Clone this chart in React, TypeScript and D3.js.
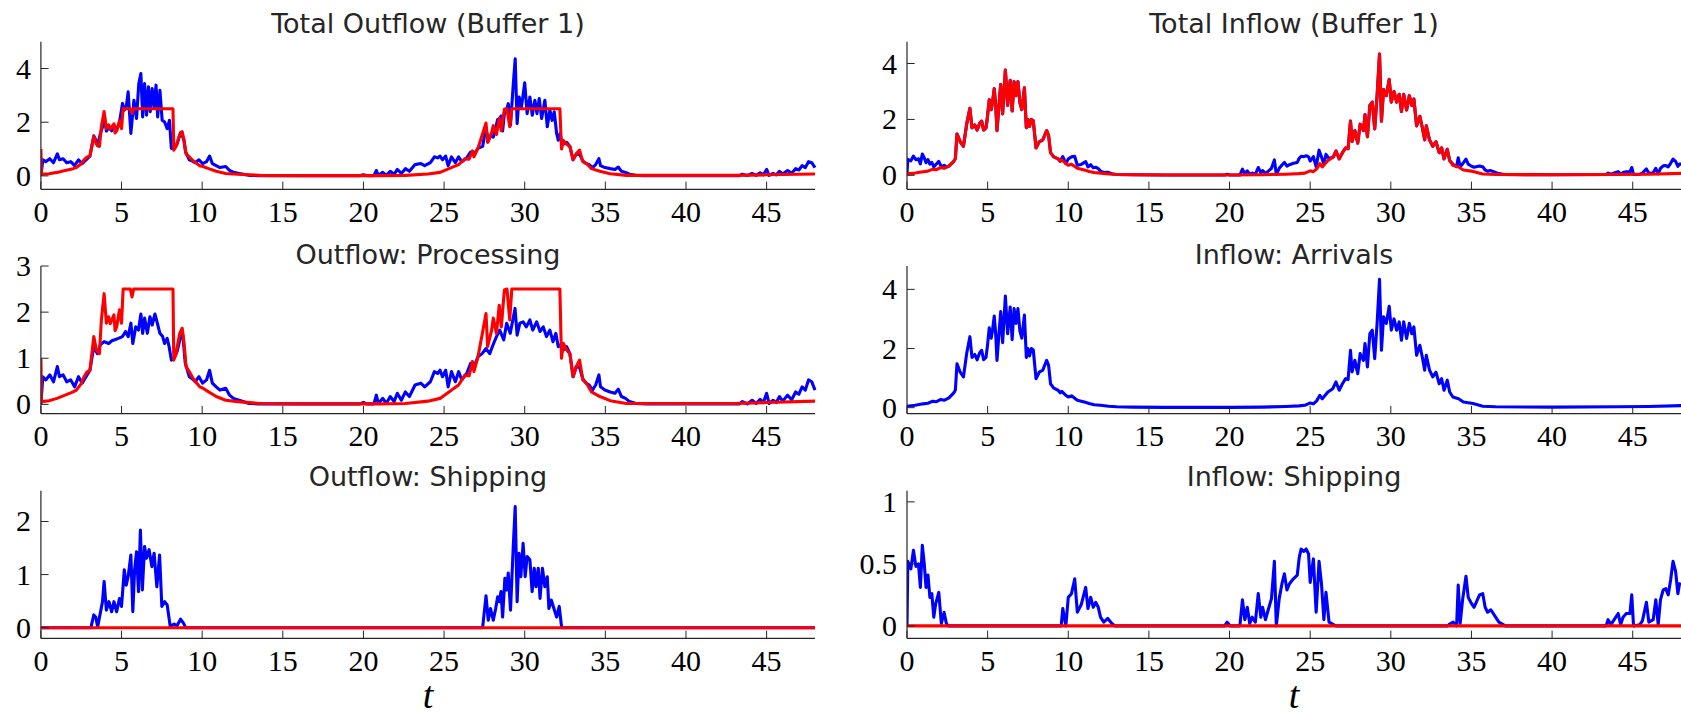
import React from 'react';
import * as d3 from 'd3';

type Pt = [number, number];

// ---------------- data ----------------
const xTicks = [0, 5, 10, 15, 20, 25, 30, 35, 40, 45];
const tDomain: [number, number] = [0, 48];

const arrivals: Pt[] = [
  [0,0.05],[0.5,0.08],[1,0.13],[1.3,0.15],[1.6,0.22],[1.8,0.2],[2.1,0.28],[2.3,0.25],[2.6,0.33],[2.9,0.5],[3.0,0.6],[3.1,1.48],[3.3,1.2],[3.5,1.04],[3.7,1.83],[3.9,2.4],[4.03,1.7],[4.2,1.8],[4.35,1.62],[4.5,1.85],[4.63,1.94],[4.75,1.62],[4.9,1.7],[4.98,2.05],[5.1,2.7],[5.22,2.35],[5.3,2.6],[5.41,3.1],[5.5,2.5],[5.58,1.6],[5.69,2.4],[5.81,3.25],[5.93,2.2],[6.1,3.77],[6.24,2.5],[6.4,3.4],[6.52,2.3],[6.64,3.35],[6.76,2.85],[6.88,3.35],[7.0,2.6],[7.12,2.35],[7.28,3.13],[7.4,1.7],[7.5,2.0],[7.6,1.75],[7.71,2.0],[7.83,1.95],[8.0,0.98],[8.2,1.2],[8.42,1.27],[8.55,1.45],[8.66,1.6],[8.78,1.43],[8.9,0.81],[9.1,0.66],[9.37,0.59],[9.5,0.5],[9.6,0.55],[9.85,0.42],[10.0,0.36],[10.2,0.4],[10.56,0.25],[10.8,0.22],[11.0,0.19],[11.3,0.14],[11.6,0.1],[12,0.08],[12.5,0.05],[13,0.03],[14,0.02],[16,0.01],[20,0.01],[22,0.02],[23.5,0.04],[24.3,0.06],[24.67,0.08],[25.0,0.16],[25.2,0.13],[25.4,0.23],[25.6,0.42],[25.75,0.3],[26.1,0.53],[26.4,0.64],[26.6,0.87],[26.8,0.59],[27.0,0.81],[27.2,0.98],[27.35,0.95],[27.5,1.94],[27.6,1.21],[27.77,1.6],[27.95,1.15],[28.1,1.83],[28.3,1.6],[28.4,2.17],[28.55,1.38],[28.7,2.5],[28.85,2.62],[29.0,1.66],[29.15,2.85],[29.3,4.34],[29.42,1.94],[29.55,3.07],[29.72,2.85],[29.9,3.43],[30.03,2.62],[30.2,3.0],[30.36,2.62],[30.52,2.9],[30.66,2.28],[30.8,2.9],[30.98,2.34],[31.15,2.85],[31.3,2.5],[31.43,2.73],[31.6,1.77],[31.8,2.11],[31.95,1.72],[32.1,1.27],[32.2,1.77],[32.4,1.27],[32.6,1.04],[32.8,1.2],[33.0,0.81],[33.15,0.98],[33.3,0.59],[33.5,0.93],[33.65,0.53],[33.85,0.36],[34.2,0.3],[34.5,0.19],[35.1,0.14],[35.7,0.05],[36.5,0.03],[40,0.02],[44,0.03],[46,0.04],[48,0.07]
];

const inShipBlue: Pt[] = [
  [0,0],[0.05,0.52],[0.24,0.46],[0.4,0.61],[0.55,0.48],[0.71,0.5],[0.83,0.31],[0.95,0.65],[1.07,0.5],[1.18,0.31],[1.3,0.41],[1.42,0.23],[1.54,0.26],[1.66,0.07],[1.78,0.18],[1.97,0.27],[2.13,0.02],[2.3,0.11],[2.44,0.02],[2.55,0],
  [9.56,0],[9.66,0.14],[9.85,0],[10.0,0.23],[10.2,0.26],[10.4,0.38],[10.56,0.11],[10.8,0.17],[11.08,0.31],[11.22,0.14],[11.39,0.23],[11.55,0.15],[11.7,0.19],[11.86,0.15],[12.0,0.07],[12.2,0.03],[12.45,0.06],[12.7,0.02],[12.9,0],
  [19.7,0],[19.85,0.03],[20.05,0],[20.64,0],[20.8,0.21],[20.95,0.05],[21.1,0.15],[21.25,0.02],[21.4,0.07],[21.6,0.03],[21.78,0.26],[21.94,0.07],[22.05,0.15],[22.23,0.05],[22.4,0.13],[22.6,0.22],[22.78,0.52],[22.9,0],[23.08,0.22],[23.25,0.34],[23.4,0.42],[23.56,0.29],[23.72,0.34],[23.96,0.38],[24.2,0.41],[24.32,0.55],[24.44,0.62],[24.6,0.6],[24.75,0.62],[24.9,0.58],[25.0,0.35],[25.2,0.54],[25.37,0.11],[25.55,0.52],[25.7,0.34],[25.85,0.05],[25.98,0.27],[26.17,0.03],[26.45,0.01],[26.6,0],
  [33.5,0],[33.6,0.01],[33.87,0.03],[34.08,0],[34.18,0.33],[34.3,0.02],[34.45,0.21],[34.66,0.4],[34.8,0.23],[34.96,0.19],[35.16,0.15],[35.5,0.25],[35.7,0.26],[35.85,0.15],[36.0,0.11],[36.2,0.13],[36.5,0.07],[36.7,0.03],[36.97,0.01],[37.1,0],
  [43.35,0],[43.47,0.05],[43.65,0.01],[43.9,0.06],[44.1,0.1],[44.25,0.01],[44.4,0.07],[44.6,0.1],[44.83,0.1],[44.94,0.25],[45.05,0],[45.44,0.01],[45.6,0.04],[45.85,0.19],[46.0,0.03],[46.27,0.05],[46.43,0.21],[46.58,0.01],[46.72,0.21],[46.89,0.29],[47.05,0.3],[47.2,0.25],[47.35,0.37],[47.5,0.52],[47.66,0.44],[47.8,0.26],[47.9,0.34],[48,0.33]
];

const inShipRed: Pt[] = [[0,0],[48,0]];

const totalInBlue: Pt[] = [
  [0,0.05],[0.05,0.57],[0.24,0.52],[0.4,0.69],[0.55,0.56],[0.71,0.59],[0.83,0.41],[0.95,0.76],[1.07,0.63],[1.18,0.45],[1.3,0.56],[1.42,0.4],[1.54,0.46],[1.66,0.3],[1.78,0.38],[1.97,0.5],[2.13,0.3],[2.3,0.36],[2.44,0.3],[2.6,0.33],
  [2.9,0.5],[3.0,0.6],[3.1,1.48],[3.3,1.2],[3.5,1.04],[3.7,1.83],[3.9,2.4],[4.03,1.7],[4.2,1.8],[4.35,1.62],[4.5,1.85],[4.63,1.94],[4.75,1.62],[4.9,1.7],[4.98,2.05],[5.1,2.7],[5.22,2.35],[5.3,2.6],[5.41,3.1],[5.5,2.5],[5.58,1.6],[5.69,2.4],[5.81,3.25],[5.93,2.2],[6.1,3.77],[6.24,2.5],[6.4,3.4],[6.52,2.3],[6.64,3.35],[6.76,2.85],[6.88,3.35],[7.0,2.6],[7.12,2.35],[7.28,3.13],[7.4,1.7],[7.5,2.0],[7.6,1.75],[7.71,2.0],[7.83,1.95],[8.0,0.98],[8.2,1.2],[8.42,1.27],[8.55,1.45],[8.66,1.6],[8.78,1.43],[8.9,0.81],[9.1,0.66],[9.37,0.59],[9.5,0.5],
  [9.66,0.67],[9.85,0.42],[10.0,0.59],[10.2,0.66],[10.4,0.68],[10.56,0.36],[10.8,0.39],[11.08,0.49],[11.22,0.3],[11.39,0.38],[11.55,0.27],[11.7,0.29],[11.86,0.24],[12.0,0.15],[12.2,0.1],[12.45,0.11],[12.7,0.06],[12.9,0.035],
  [13,0.03],[14,0.02],[16,0.01],[19.7,0.01],
  [19.85,0.04],[20.05,0.01],[20.64,0.01],[20.8,0.22],[20.95,0.06],[21.1,0.16],[21.25,0.03],[21.4,0.08],[21.6,0.04],[21.78,0.28],[21.94,0.09],[22.05,0.17],[22.23,0.07],[22.4,0.15],[22.6,0.25],[22.78,0.55],[22.9,0.03],[23.08,0.25],[23.25,0.37],[23.4,0.46],[23.56,0.33],[23.72,0.38],[23.96,0.43],[24.2,0.46],[24.32,0.61],[24.44,0.68],[24.6,0.67],[24.75,0.7],[24.9,0.66],[25.0,0.51],[25.2,0.67],[25.37,0.3],[25.55,0.9],[25.7,0.66],[25.85,0.4],[25.98,0.75],[26.17,0.6],[26.45,0.66],[26.6,0.87],
  [26.8,0.59],[27.0,0.81],[27.2,0.98],[27.35,0.95],[27.5,1.94],[27.6,1.21],[27.77,1.6],[27.95,1.15],[28.1,1.83],[28.3,1.6],[28.4,2.17],[28.55,1.38],[28.7,2.5],[28.85,2.62],[29.0,1.66],[29.15,2.85],[29.3,4.34],[29.42,1.94],[29.55,3.07],[29.72,2.85],[29.9,3.43],[30.03,2.62],[30.2,3.0],[30.36,2.62],[30.52,2.9],[30.66,2.28],[30.8,2.9],[30.98,2.34],[31.15,2.85],[31.3,2.5],[31.43,2.73],[31.6,1.77],[31.8,2.11],[31.95,1.72],[32.1,1.27],[32.2,1.77],[32.4,1.27],[32.6,1.04],[32.8,1.2],[33.0,0.81],[33.15,0.98],[33.3,0.59],[33.5,0.93],
  [33.65,0.53],[33.87,0.39],[34.08,0.31],[34.18,0.63],[34.3,0.31],[34.45,0.41],[34.66,0.58],[34.8,0.4],[34.96,0.34],[35.16,0.29],[35.5,0.33],[35.7,0.31],[35.85,0.19],[36.0,0.15],[36.2,0.17],[36.5,0.1],[36.7,0.06],[36.97,0.04],[37.1,0.03],
  [40,0.02],[43.35,0.03],
  [43.47,0.08],[43.65,0.04],[43.9,0.09],[44.1,0.13],[44.25,0.04],[44.4,0.1],[44.6,0.13],[44.83,0.13],[44.94,0.28],[45.05,0.03],[45.44,0.04],[45.6,0.08],[45.85,0.23],[46.0,0.07],[46.27,0.09],[46.43,0.25],[46.58,0.05],[46.72,0.25],[46.89,0.34],[47.05,0.35],[47.2,0.3],[47.35,0.43],[47.5,0.58],[47.66,0.5],[47.8,0.32],[47.9,0.4],[48,0.4]
];

const procRed: Pt[] = [
  [0,1.0],[0.03,0.06],[0.5,0.08],[1.0,0.13],[1.5,0.2],[2.0,0.27],[2.2,0.31],[2.5,0.45],[2.68,0.6],[2.85,0.7],[3.04,0.74],[3.28,1.47],[3.44,1.18],[3.63,1.1],[3.75,1.83],[3.92,2.4],[4.06,1.76],[4.2,1.9],[4.3,1.75],[4.4,1.83],[4.53,1.94],[4.6,1.6],[4.7,1.68],[4.87,2.05],[5.0,1.76],[5.1,2.5],[5.55,2.5],[5.65,2.33],[5.75,2.5],[8.19,2.5],[8.24,0.96],[8.38,1.1],[8.61,1.54],[8.76,1.65],[8.88,1.32],[9.0,0.82],[9.2,0.71],[9.44,0.56],[9.6,0.49],[9.85,0.38],[10.05,0.35],[10.4,0.27],[10.87,0.17],[11.46,0.09],[12.2,0.06],[13.6,0.02],[16,0.01],[21,0.01],[22.6,0.02],[24.0,0.07],[24.75,0.13],[25.3,0.27],[25.9,0.42],[26.3,0.64],[26.55,0.62],[26.76,0.93],[26.85,0.71],[27.1,1.03],[27.3,1.4],[27.6,1.97],[27.7,1.25],[27.95,1.61],[28.05,1.87],[28.25,1.54],[28.42,2.15],[28.55,1.68],[28.74,2.48],[28.9,2.5],[29.07,1.83],[29.2,2.5],[32.18,2.5],[32.28,1.0],[32.4,1.32],[32.6,1.18],[32.8,1.1],[33.0,0.6],[33.2,0.82],[33.4,0.96],[33.6,0.53],[33.83,0.46],[34.14,0.27],[34.66,0.17],[35.3,0.08],[36.3,0.02],[43,0.02],[45,0.04],[48,0.07]
];

const procBlue: Pt[] = [
  [0,0],[0.12,0.6],[0.3,0.53],[0.55,0.64],[0.78,0.49],[1.02,0.82],[1.15,0.6],[1.38,0.64],[1.6,0.49],[1.85,0.53],[2.09,0.38],[2.33,0.6],[2.56,0.46],[2.8,0.6],[3.04,0.74],[3.28,1.25],[3.5,1.1],[3.68,1.29],[3.92,1.36],[4.2,1.32],[4.4,1.38],[4.58,1.4],[4.8,1.43],[5.06,1.47],[5.25,1.58],[5.41,1.47],[5.58,1.76],[5.7,1.32],[5.88,1.68],[6.05,1.61],[6.2,1.96],[6.31,1.54],[6.43,1.87],[6.6,1.54],[6.76,1.9],[6.9,1.72],[7.07,1.96],[7.2,1.79],[7.38,1.54],[7.55,1.47],[7.67,1.32],[7.83,1.43],[7.95,1.25],[8.09,0.96],[8.26,1.0],[8.45,1.15],[8.65,1.45],[8.8,1.5],[8.95,0.9],[9.2,0.6],[9.4,0.55],[9.56,0.49],[9.8,0.6],[10.03,0.46],[10.27,0.53],[10.46,0.74],[10.63,0.46],[10.87,0.38],[11.1,0.31],[11.46,0.35],[11.7,0.2],[11.94,0.13],[12.3,0.09],[12.9,0.02],[13.5,0.01],[19.8,0.01],[20.0,0.04],[20.2,0.01],[20.65,0.01],[20.8,0.2],[20.92,0.02],[21.2,0.13],[21.42,0.02],[21.66,0.17],[21.9,0.06],[22.1,0.24],[22.35,0.09],[22.6,0.27],[22.85,0.17],[23.2,0.42],[23.56,0.46],[23.8,0.38],[24.15,0.49],[24.4,0.71],[24.6,0.67],[24.75,0.74],[24.9,0.6],[25.1,0.74],[25.25,0.38],[25.46,0.71],[25.7,0.49],[25.9,0.71],[26.1,0.53],[26.4,0.67],[26.65,0.89],[26.9,0.85],[27.1,1.03],[27.36,1.1],[27.6,1.21],[27.83,1.1],[28.07,1.32],[28.25,1.47],[28.45,1.61],[28.7,1.4],[28.88,1.76],[29.1,1.54],[29.4,2.08],[29.53,1.5],[29.7,1.76],[29.9,1.79],[30.1,1.68],[30.32,1.83],[30.5,1.61],[30.74,1.79],[30.95,1.58],[31.15,1.68],[31.35,1.47],[31.56,1.61],[31.75,1.36],[31.93,1.54],[32.08,1.25],[32.2,1.29],[32.4,1.18],[32.6,1.25],[32.8,1.1],[33.0,0.6],[33.2,0.82],[33.4,0.8],[33.6,0.56],[33.8,0.46],[34.0,0.42],[34.2,0.31],[34.4,0.42],[34.6,0.64],[34.7,0.38],[34.97,0.31],[35.3,0.27],[35.6,0.24],[35.8,0.33],[36.0,0.17],[36.25,0.13],[36.5,0.06],[36.9,0.02],[37.5,0.01],[43.3,0.01],[43.5,0.06],[43.8,0.01],[44.1,0.09],[44.35,0.02],[44.6,0.11],[44.8,0.04],[45.0,0.24],[45.15,0.02],[45.4,0.09],[45.6,0.04],[45.8,0.17],[46.0,0.07],[46.3,0.2],[46.55,0.1],[46.8,0.27],[47.0,0.22],[47.2,0.38],[47.4,0.31],[47.6,0.53],[47.8,0.49],[48,0.31]
];

const outShipBlue: Pt[] = [
  [0,0],[3.1,0],[3.28,0.24],[3.4,0.2],[3.52,0.02],[3.68,0.27],[3.82,0.49],[3.92,0.87],[4.06,0.33],[4.22,0.49],[4.39,0.3],[4.53,0.49],[4.7,0.3],[4.87,0.55],[5.0,0.4],[5.17,1.09],[5.29,0.8],[5.41,0.96],[5.58,1.37],[5.7,0.3],[5.81,1.09],[5.93,1.43],[6.05,0.68],[6.17,1.84],[6.29,0.71],[6.43,1.53],[6.55,1.31],[6.71,1.47],[6.88,1.15],[7.02,1.4],[7.19,0.77],[7.36,1.37],[7.5,0.4],[7.67,0.49],[7.83,0.43],[8.02,0.02],[8.26,0.07],[8.43,0.03],[8.66,0.16],[8.85,0.08],[8.97,0],
  [27.39,0],[27.6,0.6],[27.74,0.14],[27.88,0.36],[28.05,0.14],[28.2,0.36],[28.32,0.58],[28.42,0.49],[28.53,0.68],[28.63,0.2],[28.77,0.93],[28.88,0.71],[28.98,1.03],[29.12,0.33],[29.29,1.53],[29.41,2.28],[29.53,0.49],[29.65,1.4],[29.76,0.96],[29.9,1.59],[30.03,0.96],[30.15,1.34],[30.32,1.28],[30.46,0.68],[30.59,1.12],[30.7,0.77],[30.84,1.12],[30.95,0.55],[31.1,1.12],[31.25,0.77],[31.4,0.96],[31.5,0.36],[31.65,0.52],[31.81,0.36],[31.98,0.2],[32.14,0.4],[32.29,0],[48,0]
];

const outShipRed: Pt[] = [[0,0],[48,0]];

const totalOutBlue: Pt[] = [
  [0,0],[0.12,0.6],[0.3,0.53],[0.55,0.64],[0.78,0.49],[1.02,0.82],[1.15,0.6],[1.38,0.64],[1.6,0.49],[1.85,0.53],[2.09,0.38],[2.33,0.6],[2.56,0.46],[2.8,0.6],[3.04,0.74],
  [3.28,1.49],[3.4,1.35],[3.52,1.12],[3.68,1.56],[3.82,1.82],[3.92,2.23],[4.06,1.67],[4.22,1.81],[4.39,1.68],[4.53,1.88],[4.7,1.72],[4.87,1.99],
  [5.06,2.7],[5.17,2.45],[5.3,2.6],[5.41,3.13],[5.58,1.58],[5.77,2.82],[5.93,2.14],[6.07,3.44],[6.2,3.81],[6.31,2.2],[6.43,3.44],[6.55,2.26],[6.67,3.32],[6.78,2.39],[6.9,3.25],[7.02,2.57],[7.14,3.38],[7.24,2.2],[7.38,3.19],[7.52,2.07],[7.67,2.01],[7.83,1.76],[7.97,2.07],[8.09,1.02],[8.26,1.07],[8.43,1.16],[8.66,1.61],[8.85,1.38],[8.97,0.9],
  [9.2,0.6],[9.4,0.55],[9.56,0.49],[9.8,0.6],[10.03,0.46],[10.27,0.53],[10.46,0.74],[10.63,0.46],[10.87,0.38],[11.1,0.31],[11.46,0.35],[11.7,0.2],[11.94,0.13],[12.3,0.09],[12.9,0.02],[13.5,0.01],[19.8,0.01],[20.0,0.04],[20.2,0.01],[20.65,0.01],[20.8,0.2],[20.92,0.02],[21.2,0.13],[21.42,0.02],[21.66,0.17],[21.9,0.06],[22.1,0.24],[22.35,0.09],[22.6,0.27],[22.85,0.17],[23.2,0.42],[23.56,0.46],[23.8,0.38],[24.15,0.49],[24.4,0.71],[24.6,0.67],[24.75,0.74],[24.9,0.6],[25.1,0.74],[25.25,0.38],[25.46,0.71],[25.7,0.49],[25.9,0.71],[26.1,0.53],[26.4,0.67],[26.65,0.89],[26.9,0.85],[27.1,1.03],
  [27.39,1.1],[27.6,1.81],[27.74,1.29],[27.88,1.51],[28.05,1.44],[28.2,1.79],[28.32,2.1],[28.42,2.07],[28.53,2.23],[28.63,1.67],[28.77,2.48],[28.88,2.47],[28.98,2.69],[29.12,1.89],[29.29,3.41],[29.41,4.36],
  [29.53,1.95],[29.65,2.94],[29.8,2.57],[30.0,3.47],[30.15,2.32],[30.32,2.94],[30.47,2.26],[30.63,2.82],[30.76,2.32],[30.9,2.88],[31.05,2.14],[31.25,2.82],[31.4,1.83],[31.56,2.45],[31.7,2.07],[31.83,2.39],[31.98,1.58],[32.08,1.33],[32.2,1.58],[32.29,1.25],
  [32.4,1.18],[32.6,1.25],[32.8,1.1],[33.0,0.6],[33.2,0.82],[33.4,0.8],[33.6,0.56],[33.8,0.46],[34.0,0.42],[34.2,0.31],[34.4,0.42],[34.6,0.64],[34.7,0.38],[34.97,0.31],[35.3,0.27],[35.6,0.24],[35.8,0.33],[36.0,0.17],[36.25,0.13],[36.5,0.06],[36.9,0.02],[37.5,0.01],[43.3,0.01],[43.5,0.06],[43.8,0.01],[44.1,0.09],[44.35,0.02],[44.6,0.11],[44.8,0.04],[45.0,0.24],[45.15,0.02],[45.4,0.09],[45.6,0.04],[45.8,0.17],[46.0,0.07],[46.3,0.2],[46.55,0.1],[46.8,0.27],[47.0,0.22],[47.2,0.38],[47.4,0.31],[47.6,0.53],[47.8,0.49],[48,0.31]
];

const panelTitles = [
  'Total Outflow (Buffer 1)', 'Outflow: Processing', 'Outflow: Shipping',
  'Total Inflow (Buffer 1)', 'Inflow: Arrivals', 'Inflow: Shipping'
];
const yDomains: [number, number][] = [[-0.5, 5], [-0.2, 3], [-0.2, 2.58], [-0.5, 4.78], [-0.2, 4.79], [-0.1, 1.09]];
const yTickSets = [[0, 2, 4], [0, 1, 2, 3], [0, 1, 2], [0, 2, 4], [0, 2, 4], [0, 0.5, 1]];
const panelSeries: { data: Pt[]; color: string }[][] = [
  [{ data: totalOutBlue, color: '#0000ff' }, { data: procRed, color: '#ff0000' }],
  [{ data: procBlue, color: '#0000ff' }, { data: procRed, color: '#ff0000' }],
  [{ data: outShipBlue, color: '#0000ff' }, { data: outShipRed, color: '#ff0000' }],
  [{ data: totalInBlue, color: '#0000ff' }, { data: arrivals, color: '#ff0000' }],
  [{ data: arrivals, color: '#0000ff' }],
  [{ data: inShipBlue, color: '#0000ff' }, { data: inShipRed, color: '#ff0000' }],
];

// ---------------- layout ----------------
const W = 1681, H = 716;
const colX = [40.9, 907];
const rowY = [41.7, 266, 490.7];
const titleBase = [33.3, 263.5, 486.2];
const PW = 774.1, PH = 147.6;
const AXIS = '#262626';
const TICK_FONT = '"Liberation Serif", "DejaVu Serif", serif';
const TITLE_FONT = '"DejaVu Sans", sans-serif';

function Panel({ idx }: { idx: number }) {
  const col = Math.floor(idx / 3), row = idx % 3;
  const x0 = colX[col], y0 = rowY[row];
  const x = d3.scaleLinear().domain(tDomain).range([x0, x0 + PW]);
  const y = d3.scaleLinear().domain(yDomains[idx]).range([y0 + PH, y0]);
  const line = d3.line<Pt>().x(d => x(d[0])).y(d => y(d[1]));
  const clipId = `clip${idx}`;
  const tl = 7.7;
  return (
    <g>
      <clipPath id={clipId}>
        <rect x={x0} y={y0 - 4} width={PW + 4} height={PH + 4} />
      </clipPath>
      <text x={x0 + PW / 2} y={titleBase[row]} textAnchor="middle" fontFamily={TITLE_FONT} fontSize={27} fill="#262626">
        {panelTitles[idx]}
      </text>
      <g clipPath={`url(#${clipId})`}>
        {panelSeries[idx].map((s, i) => (
          <path key={i} d={line(s.data) || ''} fill="none" stroke={s.color} strokeWidth={3.1} strokeLinejoin="round" strokeLinecap="butt" />
        ))}
      </g>
      <line x1={x0} x2={x0 + PW} y1={y0 + PH} y2={y0 + PH} stroke={AXIS} strokeWidth={1.2} />
      <line x1={x0} x2={x0} y1={y0} y2={y0 + PH} stroke={AXIS} strokeWidth={1.2} />
      {xTicks.map(v => (
        <g key={v}>
          <line x1={x(v)} x2={x(v)} y1={y0 + PH} y2={y0 + PH - tl} stroke={AXIS} strokeWidth={1} />
          <text x={x(v)} y={y0 + PH + 32.4} textAnchor="middle" fontFamily={TICK_FONT} fontSize={30} fill="#000">{v}</text>
        </g>
      ))}
      {yTickSets[idx].map(v => (
        <g key={v}>
          <line x1={x0} x2={x0 + tl} y1={y(v)} y2={y(v)} stroke={AXIS} strokeWidth={1} />
          <text x={x0 - 10} y={y(v) + 10} textAnchor="end" fontFamily={TICK_FONT} fontSize={30} fill="#000">{String(v)}</text>
        </g>
      ))}
      {row === 2 && (
        <text x={x0 + PW / 2} y={708} textAnchor="middle" fontFamily={TICK_FONT} fontStyle="italic" fontSize={38} fill="#000">t</text>
      )}
    </g>
  );
}

export default function App() {
  return (
    <svg width={W} height={H} viewBox={`0 0 ${W} ${H}`} style={{ position: 'absolute', left: 0, top: 0, display: 'block', background: '#fff' }}>
      <rect x={0} y={0} width={W} height={H} fill="#fff" />
      {[0, 1, 2, 3, 4, 5].map(i => <Panel key={i} idx={i} />)}
    </svg>
  );
}
